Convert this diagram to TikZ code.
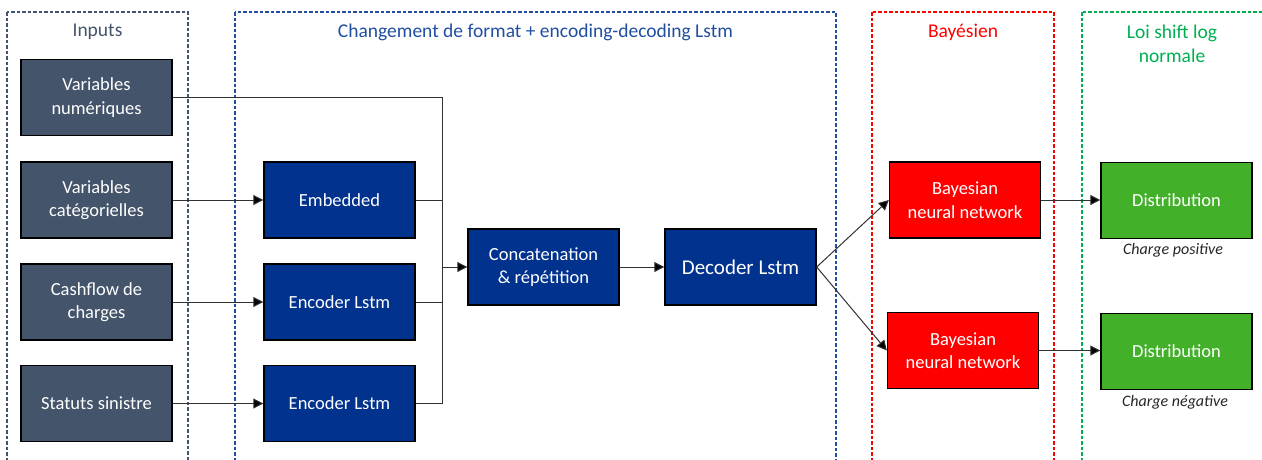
\documentclass[tikz,border=0pt]{standalone}
\usepackage{fontspec}
\setmainfont{Carlito}
\usetikzlibrary{arrows.meta}
\definecolor{slate}{RGB}{68,84,106}
\definecolor{navy}{RGB}{0,50,142}
\definecolor{framenavy}{RGB}{32,78,160}
\definecolor{brightred}{RGB}{255,0,0}
\definecolor{leaf}{RGB}{67,176,42}
\definecolor{framegreen}{RGB}{0,176,80}
\definecolor{wire}{RGB}{50,50,50}
\tikzset{
  box/.style={draw=black, line width=1.4pt, minimum width=151pt, minimum height=76pt,
    text=white, align=center, inner sep=0pt, font=\fontsize{18.5}{23.5}\selectfont},
  inbox/.style={box, fill=slate},
  lstmbox/.style={box, fill=navy},
  bnnbox/.style={box, fill=brightred},
  distbox/.style={box, fill=leaf},
  frame/.style={line width=1.1pt, dash pattern=on 3.5pt off 2pt},
  title/.style={font=\fontsize{19.5}{24}\selectfont, align=center},
  conn/.style={draw=wire, line width=1pt},
  arr/.style={conn, -{Triangle[length=10pt,width=10pt,fill=black]}},
  note/.style={font=\fontsize{16}{18}\selectfont\itshape, text=black!85}
}
\begin{document}
\begin{tikzpicture}[x=1pt,y=-1pt]
\useasboundingbox (0,0) rectangle (1262,459);
\clip (0,0) rectangle (1262,459);

% column frames
\draw[frame, draw=slate] (7,12) rectangle (188,470);
\draw[frame, draw=framenavy] (235,12) rectangle (836,470);
\draw[frame, draw=brightred] (872,12) rectangle (1054,470);
\draw[frame, draw=framegreen] (1082,12) rectangle (1275,470);

% column titles
\node[title, text=slate] (tin) at (97.5,32) {Inputs};
\node[title, text=framenavy] (tlstm) at (535.5,32) {Changement de format + encoding-decoding Lstm};
\node[title, text=brightred] (tbay) at (963,32) {Bayésien};
\node[title, text=framegreen] (tloi) at (1172,43.5) {Loi shift log\\normale};

% inputs
\node[inbox] (in1) at (96.5,97.5) {Variables\\numériques};
\node[inbox] (in2) at (96.5,200) {Variables\\catégorielles};
\node[inbox] (in3) at (96.5,302) {Cashflow de\\charges};
\node[inbox] (in4) at (96.5,403.5) {Statuts sinistre};

% encoding / decoding
\node[lstmbox] (emb) at (339.5,200) {Embedded};
\node[lstmbox] (enc1) at (339.5,302) {Encoder Lstm};
\node[lstmbox] (enc2) at (339.5,403.5) {Encoder Lstm};
\node[lstmbox] (cat) at (543.5,267) {Concatenation\\\&~répétition};
\node[lstmbox, font=\fontsize{21}{25}\selectfont] (dec) at (740.5,267) {Decoder Lstm};

% bayesian heads
\node[bnnbox] (bnn1) at (965,200) {Bayesian\\neural network};
\node[bnnbox] (bnn2) at (963,350.5) {Bayesian\\neural network};

% output distributions
\node[distbox] (d1) at (1176.5,200.5) {Distribution};
\node[distbox] (d2) at (1176.5,351.5) {Distribution};
\node[note] (n1) at (1173,250) {Charge positive};
\node[note] (n2) at (1175,402) {Charge négative};

% connectors
\coordinate (bus) at (442,267);
\draw[conn] (in1.east) -| (bus |- enc2.east) -- (enc2.east);
\draw[conn] (emb.east) -- (emb.east -| bus);
\draw[conn] (enc1.east) -- (enc1.east -| bus);
\draw[arr] (bus) -- (cat.west);
\draw[arr] (in2.east) -- (emb.west);
\draw[arr] (in3.east) -- (enc1.west);
\draw[arr] (in4.east) -- (enc2.west);
\draw[arr] (cat.east) -- (dec.west);
\draw[arr] (dec.east) -- (bnn1.west);
\draw[arr] (dec.east) -- (bnn2.west);
\draw[arr] (bnn1.east) -- (bnn1.east -| d1.west);
\draw[arr] (bnn2.east) -- (bnn2.east -| d2.west);
\end{tikzpicture}
\end{document}
